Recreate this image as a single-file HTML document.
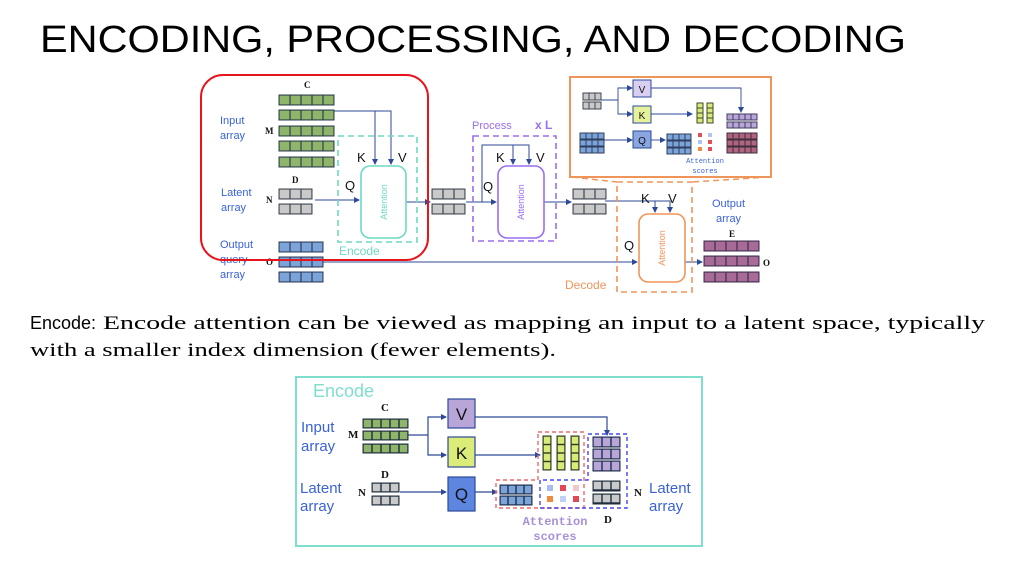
<!DOCTYPE html>
<html><head><meta charset="utf-8"><style>
html,body{margin:0;padding:0;background:#fff}
svg{display:block}
.lbl{font-family:"Liberation Sans",sans-serif;fill:#3a62d8}
.ser{font-family:"Liberation Serif",serif;font-weight:bold;fill:#111}
.k{font-family:"Liberation Sans",sans-serif;fill:#111}
</style></head><body>
<svg width="1024" height="564" viewBox="0 0 1024 564" xmlns="http://www.w3.org/2000/svg">
<defs>
<marker id="ar" markerWidth="6" markerHeight="6" refX="5" refY="3" orient="auto" markerUnits="userSpaceOnUse"><path d="M0,0 L6,3 L0,6 z" fill="#2d4a9a"/></marker>
<pattern id="pg11" width="11" height="10" patternUnits="userSpaceOnUse"><rect width="11" height="10" fill="#8fb56a" stroke="#2e3e4e" stroke-width="1.2"/></pattern>
<pattern id="pgr11" width="11" height="10" patternUnits="userSpaceOnUse"><rect width="11" height="10" fill="#c9c9c9" stroke="#3e4650" stroke-width="1.2"/></pattern>
<pattern id="pb11" width="11" height="10" patternUnits="userSpaceOnUse"><rect width="11" height="10" fill="#7da4d8" stroke="#2e3e5e" stroke-width="1.2"/></pattern>
<pattern id="pm11" width="11" height="10" patternUnits="userSpaceOnUse"><rect width="11" height="10" fill="#a86a96" stroke="#3e2e4e" stroke-width="1.2"/></pattern>
<pattern id="pgr6" width="6" height="7" patternUnits="userSpaceOnUse"><rect width="6" height="7" fill="#c9c9c9" stroke="#3e4650" stroke-width="1"/></pattern>
<pattern id="pb6" width="6" height="6" patternUnits="userSpaceOnUse"><rect width="6" height="6" fill="#7da4d8" stroke="#2e3e5e" stroke-width="1"/></pattern>
<pattern id="py6" width="6" height="5" patternUnits="userSpaceOnUse"><rect width="6" height="5" fill="#d8ea78" stroke="#3e4a2e" stroke-width="1"/></pattern>
<pattern id="pp6" width="6" height="6" patternUnits="userSpaceOnUse"><rect width="6" height="6" fill="#b8a6d8" stroke="#3e3e5e" stroke-width="1"/></pattern>
<pattern id="pm6" width="6" height="6" patternUnits="userSpaceOnUse"><rect width="6" height="6" fill="#b0647e" stroke="#3e2e3e" stroke-width="1"/></pattern>
<pattern id="pg9" width="9" height="9" patternUnits="userSpaceOnUse"><rect width="9" height="9" fill="#8fb56a" stroke="#1e2e3e" stroke-width="1.4"/></pattern>
<pattern id="pgr9" width="9" height="9" patternUnits="userSpaceOnUse"><rect width="9" height="9" fill="#c9c9c9" stroke="#1e2e3e" stroke-width="1.4"/></pattern>
<pattern id="pb8" width="8" height="9" patternUnits="userSpaceOnUse"><rect width="8" height="9" fill="#7da4d8" stroke="#1e2e4e" stroke-width="1.4"/></pattern>
<pattern id="py8" width="8" height="8.5" patternUnits="userSpaceOnUse"><rect width="8" height="8.5" fill="#d8ea78" stroke="#2e3a1e" stroke-width="1.4"/></pattern>
<pattern id="pp9" width="9" height="10" patternUnits="userSpaceOnUse"><rect width="9" height="10" fill="#b8a6d8" stroke="#1e2e4e" stroke-width="1.4"/></pattern>
</defs>

<text x="40" y="52" font-family="Liberation Sans,sans-serif" font-size="38" fill="#000" textLength="866" lengthAdjust="spacingAndGlyphs">ENCODING, PROCESSING, AND DECODING</text>

<!-- ============ TOP DIAGRAM ============ -->
<g fill="none" stroke="#2d4a9a" stroke-width="1">
<!-- encode lines -->
<path d="M334,111 H391 V164" marker-end="url(#ar)"/>
<path d="M375,111 V164" marker-end="url(#ar)"/>
<path d="M315,200 H359" marker-end="url(#ar)"/>
<path d="M406,202 H430" marker-end="url(#ar)"/>
<!-- process -->
<path d="M466,202 H496" marker-end="url(#ar)"/>
<path d="M482,202 V145 H529 V164" marker-end="url(#ar)"/>
<path d="M513,145 V164" marker-end="url(#ar)"/>
<path d="M544,202 H571" marker-end="url(#ar)"/>
<!-- decode -->
<path d="M605,201 H670 V212" marker-end="url(#ar)"/>
<path d="M655,201 V212" marker-end="url(#ar)"/>
<path d="M323,262 H637" marker-end="url(#ar)"/>
<path d="M685,262 H702" marker-end="url(#ar)"/>
</g>

<!-- Encode dashed box -->
<rect x="338" y="136" width="79" height="106" fill="none" stroke="#6ed8c4" stroke-width="1.6" stroke-dasharray="6,4"/>
<rect x="361" y="166" width="45" height="72" rx="9" fill="#fff" stroke="#6ed8c4" stroke-width="1.6"/>
<text transform="translate(387,202) rotate(-90)" text-anchor="middle" font-family="Liberation Sans,sans-serif" font-size="9" fill="#6ed8c4">Attention</text>
<text x="339" y="255" font-family="Liberation Sans,sans-serif" font-size="12" fill="#6ed8c4">Encode</text>
<text x="357" y="162" class="k" font-size="13">K</text>
<text x="398" y="162" class="k" font-size="13">V</text>
<text x="345" y="190" class="k" font-size="13">Q</text>

<!-- input rows -->
<g transform="translate(279,95)"><rect width="55" height="10" fill="url(#pg11)" stroke="#2e3e4e"/></g>
<g transform="translate(279,110)"><rect width="55" height="10" fill="url(#pg11)" stroke="#2e3e4e"/></g>
<g transform="translate(279,126)"><rect width="55" height="10" fill="url(#pg11)" stroke="#2e3e4e"/></g>
<g transform="translate(279,141)"><rect width="55" height="10" fill="url(#pg11)" stroke="#2e3e4e"/></g>
<g transform="translate(279,157)"><rect width="55" height="10" fill="url(#pg11)" stroke="#2e3e4e"/></g>
<text x="304" y="88" class="ser" font-size="9">C</text>
<text x="265" y="134" class="ser" font-size="9">M</text>
<text x="220" y="124" class="lbl" font-size="11">Input</text>
<text x="220" y="139" class="lbl" font-size="11">array</text>
<!-- latent -->
<g transform="translate(279,189)"><rect width="33" height="10" fill="url(#pgr11)" stroke="#3e4650"/></g>
<g transform="translate(279,204)"><rect width="33" height="10" fill="url(#pgr11)" stroke="#3e4650"/></g>
<text x="292" y="183" class="ser" font-size="9">D</text>
<text x="266" y="203" class="ser" font-size="9">N</text>
<text x="221" y="196" class="lbl" font-size="11">Latent</text>
<text x="221" y="211" class="lbl" font-size="11">array</text>
<!-- output query -->
<g transform="translate(279,242)"><rect width="44" height="10" fill="url(#pb11)" stroke="#2e3e5e"/></g>
<g transform="translate(279,257)"><rect width="44" height="10" fill="url(#pb11)" stroke="#2e3e5e"/></g>
<g transform="translate(279,272)"><rect width="44" height="10" fill="url(#pb11)" stroke="#2e3e5e"/></g>
<text x="266" y="265" class="ser" font-size="9">O</text>
<text x="220" y="248" class="lbl" font-size="11">Output</text>
<text x="220" y="263" class="lbl" font-size="11">query</text>
<text x="220" y="278" class="lbl" font-size="11">array</text>

<!-- red box -->
<rect x="201" y="75" width="227" height="185" rx="22" fill="none" stroke="#e8141c" stroke-width="2"/>

<!-- middle gray -->
<g transform="translate(432,189)"><rect width="33" height="10" fill="url(#pgr11)" stroke="#3e4650"/></g>
<g transform="translate(432,204)"><rect width="33" height="10" fill="url(#pgr11)" stroke="#3e4650"/></g>

<!-- process -->
<rect x="473" y="136" width="83" height="105" fill="none" stroke="#9a6ef0" stroke-width="1.6" stroke-dasharray="6,4"/>
<rect x="498" y="166" width="46" height="72" rx="9" fill="#fff" stroke="#9a6ef0" stroke-width="1.6"/>
<text transform="translate(524,202) rotate(-90)" text-anchor="middle" font-family="Liberation Sans,sans-serif" font-size="9" fill="#9a6ef0">Attention</text>
<text x="472" y="129" font-family="Liberation Sans,sans-serif" font-size="11" fill="#9a6ef0">Process</text>
<text x="535" y="129" font-family="Liberation Sans,sans-serif" font-size="12" fill="#9a6ef0" font-weight="bold">x L</text>
<text x="496" y="162" class="k" font-size="13">K</text>
<text x="536" y="162" class="k" font-size="13">V</text>
<text x="483" y="191" class="k" font-size="13">Q</text>
<g transform="translate(573,189)"><rect width="33" height="10" fill="url(#pgr11)" stroke="#3e4650"/></g>
<g transform="translate(573,204)"><rect width="33" height="10" fill="url(#pgr11)" stroke="#3e4650"/></g>

<!-- decode -->
<path d="M572,177 L617,182 M769,177 L692,182" stroke="#f0955a" stroke-width="1.5" stroke-dasharray="6,4" fill="none"/>
<rect x="617" y="182" width="75" height="110" fill="none" stroke="#f0955a" stroke-width="1.6" stroke-dasharray="6,4"/>
<rect x="639" y="214" width="46" height="68" rx="9" fill="#fff" stroke="#f0955a" stroke-width="1.6"/>
<text transform="translate(665,248) rotate(-90)" text-anchor="middle" font-family="Liberation Sans,sans-serif" font-size="9" fill="#f0955a">Attention</text>
<text x="565" y="289" font-family="Liberation Sans,sans-serif" font-size="12" fill="#f0955a">Decode</text>
<text x="641" y="203" class="k" font-size="13">K</text>
<text x="668" y="203" class="k" font-size="13">V</text>
<text x="624" y="250" class="k" font-size="13">Q</text>
<text x="712" y="207" class="lbl" font-size="11">Output</text>
<text x="716" y="222" class="lbl" font-size="11">array</text>
<g transform="translate(704,241)"><rect width="55" height="10" fill="url(#pm11)" stroke="#3e2e4e"/></g>
<g transform="translate(704,256)"><rect width="55" height="10" fill="url(#pm11)" stroke="#3e2e4e"/></g>
<g transform="translate(704,272)"><rect width="55" height="10" fill="url(#pm11)" stroke="#3e2e4e"/></g>
<text x="729" y="237" class="ser" font-size="9">E</text>
<text x="763" y="266" class="ser" font-size="9">O</text>

<!-- orange inset -->
<rect x="570" y="77" width="201" height="100" fill="#fff" stroke="#f0955a" stroke-width="2"/>
<g fill="none" stroke="#2d4a9a" stroke-width="0.9">
<path d="M601,100 H618 V88 H632" marker-end="url(#ar)"/>
<path d="M618,100 V114 H632" marker-end="url(#ar)"/>
<path d="M603,140 H632" marker-end="url(#ar)"/>
<path d="M651,114 H692" marker-end="url(#ar)"/>
<path d="M651,88 H741 V112" marker-end="url(#ar)"/>
<path d="M651,140 H665" marker-end="url(#ar)"/>
</g>
<rect x="633" y="80" width="18" height="17" fill="#d8cff0" stroke="#2d4a9a"/>
<rect x="633" y="106" width="18" height="17" fill="#e6f29a" stroke="#2d4a9a"/>
<rect x="633" y="131" width="18" height="17" fill="#8aa6e0" stroke="#2d4a9a"/>
<text x="642" y="93" text-anchor="middle" class="k" font-size="10">V</text>
<text x="642" y="119" text-anchor="middle" class="k" font-size="10">K</text>
<text x="642" y="144" text-anchor="middle" class="k" font-size="10">Q</text>
<g transform="translate(583,93)"><rect width="18" height="7" fill="url(#pgr6)" stroke="#3e4650"/></g>
<g transform="translate(583,102)"><rect width="18" height="7" fill="url(#pgr6)" stroke="#3e4650"/></g>
<g transform="translate(580,133)"><rect width="24" height="6" fill="url(#pb6)" stroke="#2e3e5e"/></g>
<g transform="translate(580,140)"><rect width="24" height="6" fill="url(#pb6)" stroke="#2e3e5e"/></g>
<g transform="translate(580,147)"><rect width="24" height="6" fill="url(#pb6)" stroke="#2e3e5e"/></g>
<g transform="translate(667,134)"><rect width="24" height="6" fill="url(#pb6)" stroke="#2e3e5e"/></g>
<g transform="translate(667,141)"><rect width="24" height="6" fill="url(#pb6)" stroke="#2e3e5e"/></g>
<g transform="translate(667,148)"><rect width="24" height="6" fill="url(#pb6)" stroke="#2e3e5e"/></g>
<g transform="translate(697,103)"><rect width="6" height="20" fill="url(#py6)" stroke="#3e4a2e"/></g>
<g transform="translate(707,103)"><rect width="6" height="20" fill="url(#py6)" stroke="#3e4a2e"/></g>
<rect x="698" y="133" width="4" height="4" fill="#e0505a"/><rect x="708" y="133" width="4" height="4" fill="#b0c4f0"/>
<rect x="698" y="140" width="4" height="4" fill="#b0c4f0"/><rect x="708" y="140" width="4" height="4" fill="#e0505a"/>
<rect x="698" y="147" width="4" height="4" fill="#f08a40"/><rect x="708" y="147" width="4" height="4" fill="#e0505a"/>
<g transform="translate(727,114)"><rect width="30" height="6" fill="url(#pp6)" stroke="#3e3e5e"/></g>
<g transform="translate(727,122)"><rect width="30" height="6" fill="url(#pp6)" stroke="#3e3e5e"/></g>
<g transform="translate(727,133)"><rect width="30" height="6" fill="url(#pm6)" stroke="#3e2e3e"/></g>
<g transform="translate(727,140)"><rect width="30" height="6" fill="url(#pm6)" stroke="#3e2e3e"/></g>
<g transform="translate(727,147)"><rect width="30" height="6" fill="url(#pm6)" stroke="#3e2e3e"/></g>
<text x="705" y="163" text-anchor="middle" font-family="Liberation Mono,monospace" font-size="7" fill="#3a62d8">Attention</text>
<text x="705" y="173" text-anchor="middle" font-family="Liberation Mono,monospace" font-size="7" fill="#3a62d8">scores</text>

<!-- paragraph -->
<text x="30" y="329" font-family="Liberation Sans,sans-serif" font-size="18" fill="#000">Encode:</text>
<text x="103" y="329" font-family="Liberation Serif,serif" font-size="19" fill="#000" textLength="882" lengthAdjust="spacingAndGlyphs">Encode attention can be viewed as mapping an input to a latent space, typically</text>
<text x="30" y="356" font-family="Liberation Serif,serif" font-size="19" fill="#000" textLength="526" lengthAdjust="spacingAndGlyphs">with a smaller index dimension (fewer elements).</text>

<!-- ============ BOTTOM DIAGRAM ============ -->
<rect x="296" y="377" width="406" height="169" fill="#fff" stroke="#7ee0cc" stroke-width="2"/>
<text x="313" y="397" font-family="Liberation Sans,sans-serif" font-size="18" fill="#7ee0cc">Encode</text>
<g fill="none" stroke="#2d4a9a" stroke-width="1.2">
<path d="M408,435 H428 V417 H446" marker-end="url(#ar)"/>
<path d="M428,435 V455 H446" marker-end="url(#ar)"/>
<path d="M400,492 H446" marker-end="url(#ar)"/>
<path d="M475,492 H497" marker-end="url(#ar)"/>
<path d="M475,455 H540" marker-end="url(#ar)"/>
<path d="M475,417 H607 V435" marker-end="url(#ar)"/>
</g>
<rect x="448" y="399" width="27" height="29" fill="#b8a6d8" stroke="#2d4a9a" stroke-width="1.2"/>
<rect x="448" y="437" width="27" height="30" fill="#dcec78" stroke="#2d4a9a" stroke-width="1.2"/>
<rect x="448" y="477" width="27" height="34" fill="#5e86e0" stroke="#2d4a9a" stroke-width="1.2"/>
<text x="461.5" y="420" text-anchor="middle" class="k" font-size="17">V</text>
<text x="461.5" y="459" text-anchor="middle" class="k" font-size="17">K</text>
<text x="461.5" y="500" text-anchor="middle" class="k" font-size="17">Q</text>
<g transform="translate(363,419)"><rect width="45" height="9" fill="url(#pg9)" stroke="#1e2e3e"/></g>
<g transform="translate(363,431)"><rect width="45" height="9" fill="url(#pg9)" stroke="#1e2e3e"/></g>
<g transform="translate(363,444)"><rect width="45" height="9" fill="url(#pg9)" stroke="#1e2e3e"/></g>
<text x="381" y="411" class="ser" font-size="11">C</text>
<text x="348" y="438" class="ser" font-size="11">M</text>
<text x="301" y="432" class="lbl" font-size="15">Input</text>
<text x="301" y="451" class="lbl" font-size="15">array</text>
<g transform="translate(372,483)"><rect width="27" height="9" fill="url(#pgr9)" stroke="#1e2e3e"/></g>
<g transform="translate(372,496)"><rect width="27" height="9" fill="url(#pgr9)" stroke="#1e2e3e"/></g>
<text x="381" y="478" class="ser" font-size="11">D</text>
<text x="358" y="496" class="ser" font-size="11">N</text>
<text x="300" y="493" class="lbl" font-size="15">Latent</text>
<text x="300" y="511" class="lbl" font-size="15">array</text>
<!-- dashed boxes -->
<path d="M538,432 H584 V508 H496 V480 H538 Z" fill="none" stroke="#f06868" stroke-width="1.4" stroke-dasharray="4,3"/>
<path d="M588,434 H627 V508 H540 V480 H588 Z" fill="none" stroke="#4848f0" stroke-width="1.4" stroke-dasharray="4,3"/>
<g transform="translate(543,436)"><rect width="8" height="34" fill="url(#py8)" stroke="#2e3a1e"/></g>
<g transform="translate(557,436)"><rect width="8" height="34" fill="url(#py8)" stroke="#2e3a1e"/></g>
<g transform="translate(571,436)"><rect width="8" height="34" fill="url(#py8)" stroke="#2e3a1e"/></g>
<g transform="translate(500,485)"><rect width="32" height="9" fill="url(#pb8)" stroke="#1e2e4e"/></g>
<g transform="translate(500,496)"><rect width="32" height="9" fill="url(#pb8)" stroke="#1e2e4e"/></g>
<rect x="547" y="485" width="6" height="6" fill="#a8bcf0"/><rect x="560" y="485" width="6" height="6" fill="#e04858"/><rect x="573" y="485" width="6" height="6" fill="#f0c8cc"/>
<rect x="547" y="496" width="6" height="6" fill="#f08a40"/><rect x="560" y="496" width="6" height="6" fill="#c0d0f4"/><rect x="573" y="496" width="6" height="6" fill="#e04858"/>
<g transform="translate(593,437)"><rect width="27" height="10" fill="url(#pp9)" stroke="#1e2e4e"/></g>
<g transform="translate(593,449)"><rect width="27" height="10" fill="url(#pp9)" stroke="#1e2e4e"/></g>
<g transform="translate(593,461)"><rect width="27" height="10" fill="url(#pp9)" stroke="#1e2e4e"/></g>
<g transform="translate(593,481)"><rect width="27" height="10" fill="url(#pgr9)" stroke="#1e2e3e"/></g>
<g transform="translate(593,494)"><rect width="27" height="10" fill="url(#pgr9)" stroke="#1e2e3e"/></g>
<text x="555" y="525" text-anchor="middle" font-family="Liberation Mono,monospace" font-size="12" fill="#a890d8" font-weight="bold">Attention</text>
<text x="555" y="540" text-anchor="middle" font-family="Liberation Mono,monospace" font-size="12" fill="#a890d8" font-weight="bold">scores</text>
<text x="604" y="523" class="ser" font-size="11">D</text>
<text x="634" y="496" class="ser" font-size="11">N</text>
<text x="649" y="493" class="lbl" font-size="15">Latent</text>
<text x="649" y="511" class="lbl" font-size="15">array</text>
</svg>
</body></html>
